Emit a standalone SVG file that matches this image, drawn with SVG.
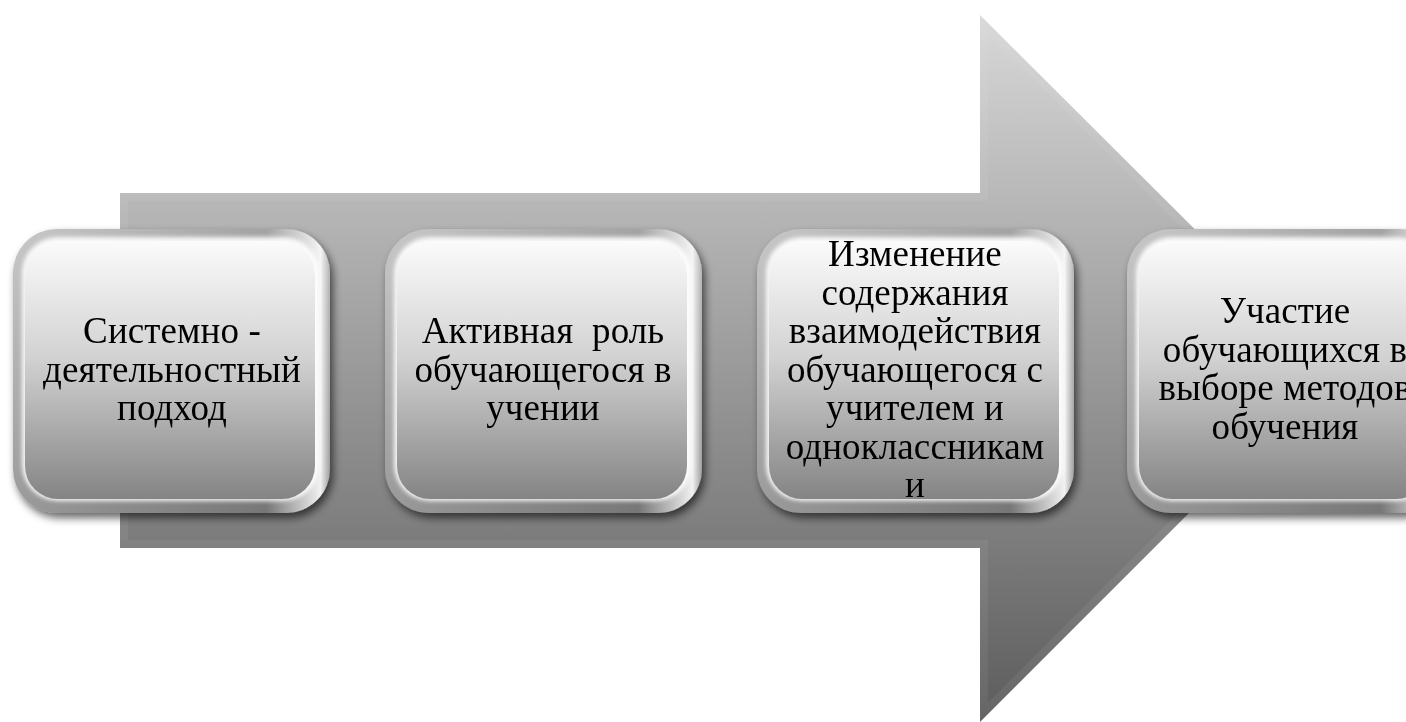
<svg xmlns="http://www.w3.org/2000/svg" width="1406" height="722" viewBox="0 0 1406 722">
  <style>
    .lbl { font-family: "Liberation Serif", "Times New Roman", serif; font-size: 37px; letter-spacing: 0.1px; fill: #000; text-anchor: middle; }
  </style>
  <defs>
    <linearGradient id="arrowGrad" gradientUnits="userSpaceOnUse" x1="0" y1="15" x2="0" y2="722">
      <stop offset="0" stop-color="#d8d8d8"/>
      <stop offset="1" stop-color="#5c5c5c"/>
    </linearGradient>
    <linearGradient id="rimGrad" x1="0" y1="0" x2="1" y2="1">
      <stop offset="0" stop-color="#c8c8c8"/>
      <stop offset="0.5" stop-color="#9a9a9a"/>
      <stop offset="1" stop-color="#6e6e6e"/>
    </linearGradient>
    <linearGradient id="rimHi" x1="0" y1="0" x2="1" y2="0">
      <stop offset="0" stop-color="#ffffff" stop-opacity="0"/>
      <stop offset="0.8" stop-color="#ffffff" stop-opacity="0"/>
      <stop offset="0.97" stop-color="#ffffff" stop-opacity="0.9"/>
      <stop offset="1" stop-color="#ffffff" stop-opacity="0.3"/>
    </linearGradient>
    <linearGradient id="faceGrad" x1="0" y1="0" x2="0" y2="1">
      <stop offset="0" stop-color="#fbfbfb"/>
      <stop offset="0.45" stop-color="#d2d2d2"/>
      <stop offset="1" stop-color="#848484"/>
    </linearGradient>
    <filter id="shadow" x="-10%" y="-10%" width="125%" height="125%">
      <feGaussianBlur in="SourceAlpha" stdDeviation="4"/>
      <feOffset dx="3" dy="5" result="b"/>
      <feComponentTransfer><feFuncA type="linear" slope="0.6"/></feComponentTransfer>
      <feMerge><feMergeNode/><feMergeNode in="SourceGraphic"/></feMerge>
    </filter>
    <filter id="soft" x="-5%" y="-5%" width="110%" height="110%">
      <feGaussianBlur stdDeviation="2"/>
    </filter>
    <clipPath id="arrowClip">
      <polygon points="120,193 980,193 980,15 1334,368 980,722 980,548 120,548"/>
    </clipPath>
    <g id="boxShape">
      <rect x="0" y="0" width="317" height="284" rx="44" fill="url(#rimGrad)"/>
      <rect x="0" y="0" width="317" height="284" rx="44" fill="url(#rimHi)"/>
      <rect x="9" y="8" width="297" height="264" rx="36" fill="#ffffff" opacity="0.9" filter="url(#soft)"/>
      <rect x="12" y="12" width="290" height="258" rx="33" fill="url(#faceGrad)"/>
    </g>
  </defs>

  <g id="connectors">
    <polygon points="120,193 980,193 980,15 1334,368 980,722 980,548 120,548" fill="url(#arrowGrad)"/>
    <polygon clip-path="url(#arrowClip)" points="120,193 980,193 980,15 1334,368 980,722 980,548 120,548" fill="none" stroke="#ffffff" stroke-opacity="0.06" stroke-width="16"/>
  </g>

  <g id="node1" filter="url(#shadow)">
    <use href="#boxShape" x="13" y="229"/>
    <text class="lbl" x="172" y="343">Системно -</text>
    <text class="lbl" x="172" y="381.5">деятельностный</text>
    <text class="lbl" x="172" y="420">подход</text>
  </g>

  <g id="node2" filter="url(#shadow)">
    <use href="#boxShape" x="385" y="229"/>
    <text class="lbl" x="543" y="343" xml:space="preserve">Активная  роль</text>
    <text class="lbl" x="543" y="381.5">обучающегося в</text>
    <text class="lbl" x="543" y="420">учении</text>
  </g>

  <g id="node3" filter="url(#shadow)">
    <use href="#boxShape" x="757" y="229"/>
    <text class="lbl" x="915" y="266">Изменение</text>
    <text class="lbl" x="915" y="304.5">содержания</text>
    <text class="lbl" x="915" y="343">взаимодействия</text>
    <text class="lbl" x="915" y="381.5">обучающегося с</text>
    <text class="lbl" x="915" y="420">учителем и</text>
    <text class="lbl" x="915" y="458.5">одноклассникам</text>
    <text class="lbl" x="915" y="497">и</text>
  </g>

  <g id="node4" filter="url(#shadow)">
    <use href="#boxShape" x="1127" y="229"/>
    <text class="lbl" x="1285" y="323">Участие</text>
    <text class="lbl" x="1285" y="361.5">обучающихся в</text>
    <text class="lbl" x="1285" y="400">выборе методов</text>
    <text class="lbl" x="1285" y="438.5">обучения</text>
  </g>
</svg>
